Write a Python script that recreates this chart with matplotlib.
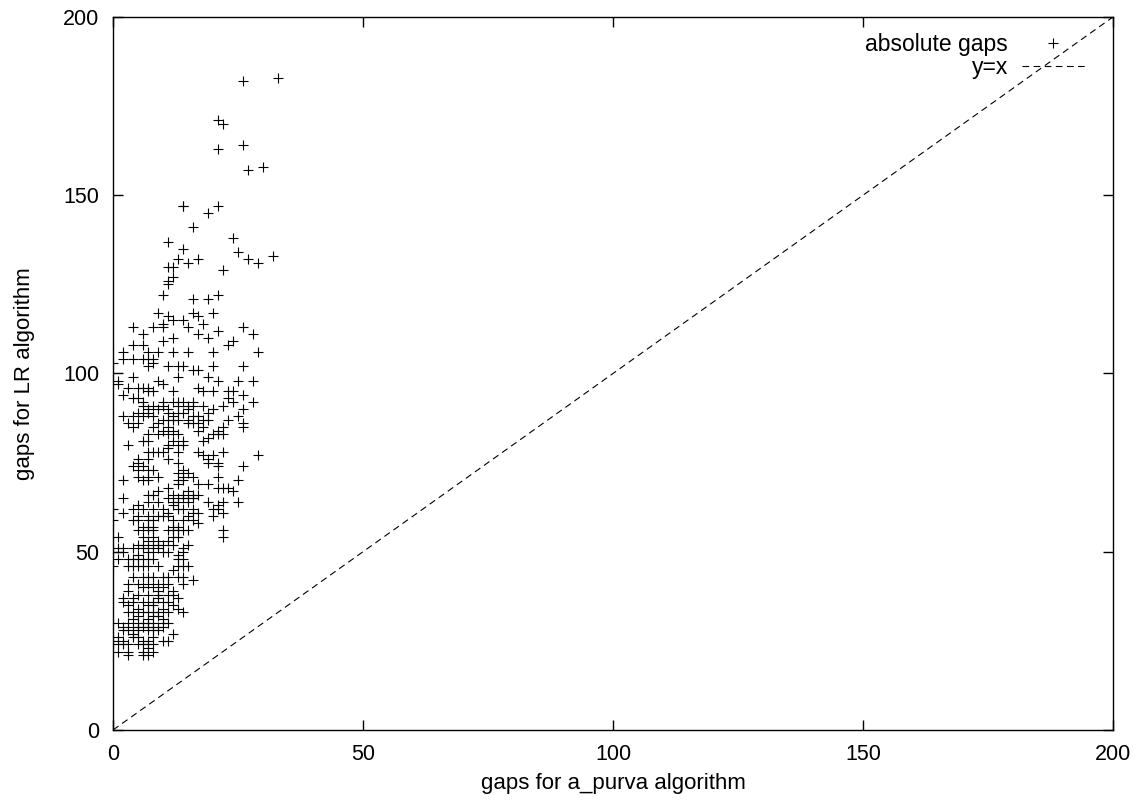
import matplotlib
matplotlib.use("Agg")
import matplotlib.pyplot as plt

plt.rcParams['font.family'] = ['Liberation Sans', 'DejaVu Sans']

# gap per instance: a_purva (x) vs LR (y)
purva_gaps = [
    26, 33, 21, 22, 21, 26,
    27, 30, 14, 14, 19, 21, 16, 11, 24, 14, 25, 13, 15, 17, 27, 29, 32, 11, 12, 22,
    12, 11, 11, 10, 16, 19, 21, 9, 11, 16, 17, 20, 12, 14, 10, 18, 4, 8, 10, 15, 21, 26,
    6, 17, 28, 19, 12, 10, 24, 23, 4, 6, 2, 7, 9, 12, 15, 20, 29, 2, 4, 6, 7, 8,
    0, 7, 8, 11, 13, 14, 16, 17, 20, 26, 1, 1, 4, 13, 19, 9, 21, 25, 28, 10,
    3, 5, 6, 7, 17, 2, 7, 8, 12, 18, 20, 23, 24, 26,
    4, 5, 6, 10, 12, 13, 14, 16, 23, 24, 28,
    6, 7, 8, 9, 10, 11, 13, 15, 16, 18, 22, 26,
    5, 7, 11, 13, 14, 15, 19, 20,
    2, 4, 6, 8, 10, 12, 15, 16, 17, 18, 23, 25, 26,
    3, 5, 9, 11, 12, 13, 15, 16, 17, 19, 26,
    4, 8, 10, 11, 12, 18, 17, 21, 22,
    7, 9, 11, 13, 19, 20, 21, 22,
    6, 7, 12, 14, 18, 3, 11, 13, 14,
    7, 8, 9, 10, 11, 13, 17, 22, 29, 5, 11, 18, 19, 20,
    5, 7, 13, 19, 21, 26, 4, 5, 6, 7, 8, 14, 21,
    5, 7, 9, 13, 15, 16, 14, 2, 6, 7, 13, 14, 21, 25,
    13, 17, 19, 21, 22, 23, 24, 11, 7, 8, 9, 12, 14, 15, 16, 17,
    2, 11, 12, 13, 14, 15, 16, 5, 7, 9, 12, 13, 15, 19, 22, 21, 25,
    0, 2, 4, 6, 8, 10, 11, 13, 14, 16, 17, 20, 22, 21,
    5, 7, 9, 10, 11, 15, 16, 20, 0, 4, 5, 7, 8, 12, 14, 16, 17,
    6, 7, 8, 12, 13, 5, 7, 8, 11, 12, 13, 14, 15, 22,
    1, 6, 7, 8, 9, 12, 13, 22, 5, 6, 8, 9, 10, 11, 12, 15,
    1, 2, 4, 6, 7, 9, 11, 14, 0, 2, 5, 7, 8, 10, 13, 14,
    1, 3, 4, 5, 6, 7, 8, 13, 14, 0, 3, 4, 5, 6, 7, 9, 13, 14, 15, 12,
    4, 6, 7, 8, 10, 11, 13, 14, 3, 5, 7, 9, 11, 14, 16,
    3, 6, 8, 9, 10, 12, 5, 7, 9, 11, 12, 13, 4,
    2, 2, 4, 6, 8, 9, 10, 11, 3, 5, 7, 8, 10, 12, 13,
    3, 4, 6, 7, 8, 9, 11, 14, 5, 7, 8, 9, 10, 4,
    1, 3, 5, 6, 7, 8, 10, 11, 2, 4, 5, 6, 7, 8, 9, 10,
    2, 3, 4, 5, 7, 8, 9, 12, 0, 1, 2, 4, 5, 6, 7, 8, 10, 11,
    1, 2, 3, 5, 6, 7, 8, 1, 3, 6, 8, 7, 3, 6, 7,
]
lr_gaps = [
    182, 183, 171, 170, 163, 164,
    157, 158, 147, 147, 145, 147, 141, 137, 138, 135, 134, 132, 131, 132, 132, 131, 133, 130, 130, 129,
    127, 126, 125, 122, 121, 121, 122, 117, 116, 117, 116, 117, 115, 115, 114, 114, 113, 113, 113, 113, 112, 113,
    111, 111, 111, 110, 110, 109, 109, 108, 108, 108, 106, 106, 106, 106, 106, 106, 106, 104, 104, 104, 104, 104,
    103, 102, 103, 102, 102, 102, 101, 101, 102, 102, 98, 97, 99, 99, 99, 98, 98, 98, 98, 97,
    96, 96, 96, 96, 96, 94, 95, 95, 95, 95, 95, 95, 95, 94,
    93, 93, 92, 92, 92, 92, 92, 92, 93, 92, 92,
    91, 90, 91, 90, 91, 90, 91, 91, 91, 91, 91, 90,
    89, 89, 89, 89, 89, 90, 89, 90,
    88, 88, 88, 88, 87, 88, 87, 88, 88, 87, 87, 88, 86,
    86, 86, 86, 87, 87, 87, 86, 86, 86, 87, 85,
    85, 85, 84, 85, 84, 85, 84, 84, 85,
    83, 83, 83, 83, 82, 83, 83, 83,
    81, 81, 81, 81, 81, 80, 80, 80, 80,
    78, 78, 78, 78, 79, 78, 78, 78, 77, 76, 76, 77, 76, 77,
    75, 76, 75, 75, 75, 74, 74, 73, 74, 73, 73, 73, 74,
    71, 71, 71, 72, 72, 71, 71, 70, 70, 70, 70, 70, 71, 70,
    69, 69, 69, 68, 68, 68, 67, 68, 66, 66, 67, 66, 66, 67, 66, 66,
    65, 65, 64, 65, 65, 65, 65, 63, 64, 64, 63, 64, 64, 64, 64, 63, 64,
    62, 61, 62, 62, 62, 62, 61, 62, 62, 62, 61, 62, 61, 62,
    60, 60, 60, 60, 60, 60, 61, 60, 59, 59, 59, 59, 59, 59, 59, 59, 58,
    57, 57, 57, 57, 57, 56, 56, 56, 56, 56, 56, 56, 56, 56,
    54, 54, 53, 54, 53, 54, 54, 54, 52, 52, 52, 52, 52, 53, 52, 52,
    51, 51, 51, 51, 51, 51, 50, 51, 50, 50, 49, 50, 50, 50, 49, 50,
    48, 48, 48, 48, 48, 48, 48, 48, 48, 46, 46, 46, 46, 46, 46, 46, 46, 46, 46, 45,
    43, 43, 43, 43, 43, 43, 43, 43, 41, 41, 41, 41, 41, 41, 42,
    39, 40, 40, 39, 40, 39, 38, 38, 38, 38, 38, 37, 37,
    37, 36, 36, 36, 36, 37, 36, 36, 35, 34, 35, 35, 34, 35, 34,
    33, 33, 33, 33, 33, 33, 33, 33, 32, 31, 32, 32, 31, 31,
    30, 30, 30, 30, 30, 30, 30, 30, 29, 29, 29, 29, 29, 29, 29, 29,
    28, 28, 27, 28, 28, 28, 28, 27, 25, 26, 25, 26, 26, 25, 25, 26, 25, 25,
    24, 24, 24, 24, 24, 24, 24, 22, 22, 22, 22, 23, 21, 21, 21,
]

diag = [0, 200]
ticks = [0, 50, 100, 150, 200]

fig = plt.figure(figsize=(11.44, 8.05), dpi=100)
ax = fig.add_axes([0.0988, 0.0932, 0.8741, 0.8857])

ax.plot(purva_gaps, lr_gaps, linestyle='none', marker='+', markersize=7.5,
        markeredgewidth=0.8, color='black', label='absolute gaps')
ax.plot(diag, diag, color='black', linewidth=0.8, linestyle=(0, (6, 4)), label='y=x')

ax.set_xlim(0, 200)
ax.set_ylim(0, 200)
ax.set_xticks(ticks)
ax.set_yticks(ticks)
ax.tick_params(direction='in', length=7, width=1, top=True, right=True,
               labelsize=15.5, pad=10)
for s in ax.spines.values():
    s.set_linewidth(1)

ax.set_xlabel('gaps for a_purva algorithm', fontsize=16, labelpad=6)
ax.set_ylabel('gaps for LR algorithm', fontsize=16, labelpad=20)

ax.legend(loc='upper right', bbox_to_anchor=(0.972, 0.977), frameon=False,
          markerfirst=False, fontsize=16.5, borderpad=0, borderaxespad=0,
          handlelength=2.75, handletextpad=0.6, labelspacing=0.0)

fig.savefig('out.png', dpi=100)
